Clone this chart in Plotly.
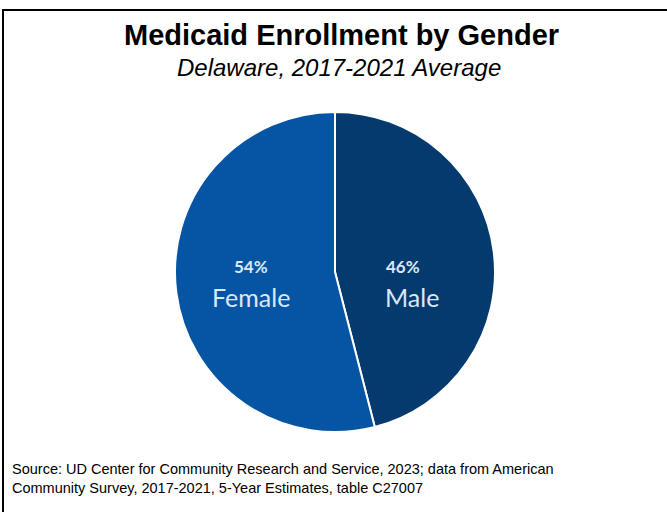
import plotly.graph_objects as go

# Enrollment shares by gender
genders = ["Male", "Female"]
shares = [46, 54]
slice_colors = ["#053A6E", "#0655A4"]

title_text = "Medicaid Enrollment by Gender"
subtitle_text = "Delaware, 2017-2021 Average"
source_text = ("Source: UD Center for Community Research and Service, 2023; data from American<br>"
               "Community Survey, 2017-2021, 5-Year Estimates, table C27007")

W, H = 667, 512
cx, cy, r = 335, 272, 160

fig = go.Figure(go.Pie(
    labels=genders,
    values=shares,
    sort=False,
    direction="clockwise",
    rotation=0,
    marker=dict(colors=slice_colors, line=dict(color="white", width=2)),
    textinfo="none",
    hoverinfo="label+percent",
    showlegend=False,
    domain=dict(x=[(cx - r) / W, (cx + r) / W], y=[(H - cy - r) / H, (H - cy + r) / H]),
))

# In-slice labels: percentage on top, category name below
label_color = "#DCE8F5"
pct_x = {"Male": 403, "Female": 251}
name_x = {"Male": 412, "Female": 251}
total = sum(shares)
slice_labels = []
for g, v in zip(genders, shares):
    slice_labels.append(dict(
        text="<b>%d%%</b>" % round(100 * v / total), x=pct_x[g] / W, y=(H - 266) / H,
        xref="paper", yref="paper", xanchor="center", yanchor="middle", showarrow=False,
        font=dict(family="Lato", size=17, color=label_color)))
    slice_labels.append(dict(
        text=g, x=name_x[g] / W, y=(H - 297) / H,
        xref="paper", yref="paper", xanchor="center", yanchor="middle", showarrow=False,
        font=dict(family="Lato", size=25, color=label_color)))

fig.update_layout(
    width=W, height=H,
    margin=dict(l=0, r=0, t=0, b=0),
    paper_bgcolor="white",
    plot_bgcolor="white",
    font=dict(family="Liberation Sans, Arial", color="black"),
    shapes=[dict(type="rect", xref="paper", yref="paper",
                 x0=3 / W, x1=1.02, y0=-0.02, y1=(H - 10) / H,
                 line=dict(color="black", width=2), fillcolor="rgba(0,0,0,0)")],
    annotations=[
        dict(text="<b>" + title_text + "</b>", x=341 / W, y=(H - 35) / H,
             xref="paper", yref="paper", xanchor="center", yanchor="middle",
             showarrow=False, font=dict(size=29, family="Liberation Sans, Arial")),
        dict(text="<i>" + subtitle_text + "</i>", x=339 / W, y=(H - 67) / H,
             xref="paper", yref="paper", xanchor="center", yanchor="middle",
             showarrow=False, font=dict(size=24, family="Liberation Sans, Arial")),
        dict(text=source_text, x=10 / W, y=(H - 478) / H,
             xref="paper", yref="paper", xanchor="left", yanchor="middle", align="left",
             showarrow=False, font=dict(size=14.5, family="Liberation Sans, Arial")),
    ] + slice_labels,
)

fig.write_html("out.html")
